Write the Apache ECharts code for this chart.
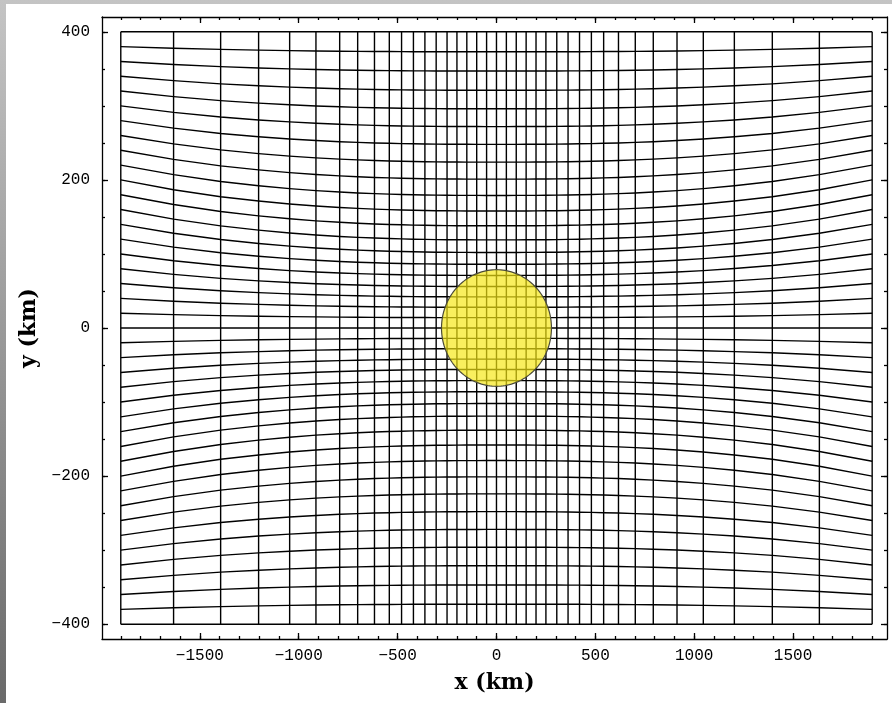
<!DOCTYPE html>
<html><head><meta charset="utf-8">
<script src="https://cdn.jsdelivr.net/npm/echarts@6/dist/echarts.min.js"></script>
<style>
html,body{margin:0;padding:0;width:892px;height:703px;overflow:hidden;background:linear-gradient(#c4c4c4,#6a6a6a);}
#panel{position:absolute;left:6px;top:4px;right:0;bottom:0;background:#fff;}
#chart{position:absolute;left:0;top:0;width:892px;height:703px;}
</style></head><body><div id="panel"></div><div id="chart"></div>
<script>
// vertical mesh lines (km)
const xLines = [-1900,-1633,-1395,-1203,-1046,-913,-793,-702,-617,-542,-480,-420,-362,-305,-250,-200,-150,-100,-50,0,50,100,150,200,250,305,362,420,480,542,617,702,793,913,1046,1203,1395,1633,1900];
// how far each horizontal mesh line has moved from its centre position toward its edge position, at each vertical line
const blendWeights = [1,0.685,0.46,0.32,0.225,0.16,0.113,0.083,0.06,0.044,0.032,0.023,0.016,0.01,0.006,0.004,0.002,0.001,0,0,0,0.001,0.002,0.004,0.006,0.01,0.016,0.023,0.032,0.044,0.06,0.083,0.113,0.16,0.225,0.32,0.46,0.685,1];
// horizontal mesh lines: height at the left/right edges and at x = 0 (km)
const yAtEdge = [-400,-380,-360,-340,-320,-300,-280,-260,-240,-220,-200,-180,-160,-140,-120,-100,-80,-60,-40,-20,0,20,40,60,80,100,120,140,160,180,200,220,240,260,280,300,320,340,360,380,400];
const yAtCenter = [-400,-373,-347,-321,-296,-272,-248,-224,-201,-179,-158,-138,-119,-102,-86,-71,-56,-42,-28,-14,0,14,28,42,56,71,86,102,119,138,158,179,201,224,248,272,296,321,347,373,400];
// body (yellow disc): centre x, centre y, half-width, half-height (km)
const body = [[0, 0, 278, 78.7]];
// ticks
const xMajorTicks = [-1500,-1000,-500,0,500,1000,1500];
const xMinorTicks = [-1900,-1800,-1700,-1600,-1500,-1400,-1300,-1200,-1100,-1000,-900,-800,-700,-600,-500,-400,-300,-200,-100,0,100,200,300,400,500,600,700,800,900,1000,1100,1200,1300,1400,1500,1600,1700,1800,1900];
const yMajorTicks = [-400,-200,0,200,400];
const yMinorTicks = [-400,-350,-300,-250,-200,-150,-100,-50,0,50,100,150,200,250,300,350,400];

const meshLines = [];
xLines.forEach(x => meshLines.push({coords: [[x, yAtEdge[0]], [x, yAtEdge[yAtEdge.length - 1]]]}));
yAtEdge.forEach((ye, j) => {
  const yc = yAtCenter[j];
  meshLines.push({coords: xLines.map((x, i) => [x, yc + (ye - yc) * blendWeights[i]])});
});

const fmt = v => v < 0 ? '\u2212' + Math.abs(v) : String(v);
const mono = {fontFamily: 'Liberation Mono', fontSize: 16, color: '#000'};
const titleFont = {fontFamily: 'DejaVu Serif', fontWeight: 'bold', fontSize: 22, color: '#000'};
const XMIN = -1995, XMAX = 1975, YMIN = -420, YMAX = 420;
const blk = {color: '#000', width: 1.3};

function xAx(pos, ticks, len, labels, line, extra) {
  return Object.assign({
    type: 'value', min: XMIN, max: XMAX, position: pos, gridIndex: 0,
    axisLine: {show: line, onZero: false, lineStyle: blk},
    axisTick: {show: true, inside: true, length: len, customValues: ticks, lineStyle: blk},
    axisLabel: labels ? Object.assign({show: true, customValues: ticks, formatter: fmt, margin: 9}, mono) : {show: false},
    splitLine: {show: false}
  }, extra || {});
}
function yAx(pos, ticks, len, labels, line, extra) {
  return Object.assign({
    type: 'value', min: YMIN, max: YMAX, position: pos, gridIndex: 0,
    axisLine: {show: line, onZero: false, lineStyle: blk},
    axisTick: {show: true, inside: true, length: len, customValues: ticks, lineStyle: blk},
    axisLabel: labels ? Object.assign({show: true, customValues: ticks, formatter: fmt, margin: 12}, mono) : {show: false},
    splitLine: {show: false}
  }, extra || {});
}

const chart = echarts.init(document.getElementById('chart'), null, {renderer: 'canvas'});
chart.setOption({
  animation: false,
  backgroundColor: 'transparent',
  grid: {left: 102, top: 17, width: 785, height: 622, containLabel: false},
  xAxis: [
    xAx('bottom', xMajorTicks, 6, true, true, {name: 'x (km)', nameLocation: 'middle', nameGap: 33, nameTextStyle: titleFont}),
    xAx('bottom', xMinorTicks, 3, false, false),
    xAx('top', xMajorTicks, 6, false, true),
    xAx('top', xMinorTicks, 3, false, false)
  ],
  yAxis: [
    yAx('left', yMajorTicks, 6, true, true, {name: 'y (km)', nameLocation: 'middle', nameGap: 60, nameRotate: 90, nameTextStyle: titleFont}),
    yAx('left', yMinorTicks, 3, false, false),
    yAx('right', yMajorTicks, 6, false, true),
    yAx('right', yMinorTicks, 3, false, false)
  ],
  series: [
    {
      type: 'lines', coordinateSystem: 'cartesian2d', xAxisIndex: 0, yAxisIndex: 0,
      polyline: true, silent: true, z: 2,
      lineStyle: {color: '#000', width: 1.4, opacity: 1, curveness: 0},
      data: meshLines
    },
    {
      type: 'custom', xAxisIndex: 0, yAxisIndex: 0, z: 5, silent: true,
      data: body,
      renderItem: function (params, api) {
        const c = api.coord([api.value(0), api.value(1)]);
        const s = api.size([api.value(2), api.value(3)]);
        const pts = [];
        for (let k = 0; k < 160; k++) {
          const a = k / 160 * 2 * Math.PI;
          pts.push([c[0] + s[0] * Math.cos(a), c[1] + s[1] * Math.sin(a)]);
        }
        return {type: 'polygon', shape: {points: pts},
          style: {fill: 'rgba(246,232,18,0.68)', stroke: '#4a4a3a', lineWidth: 1.2}};
      }
    }
  ]
});
</script></body></html>
